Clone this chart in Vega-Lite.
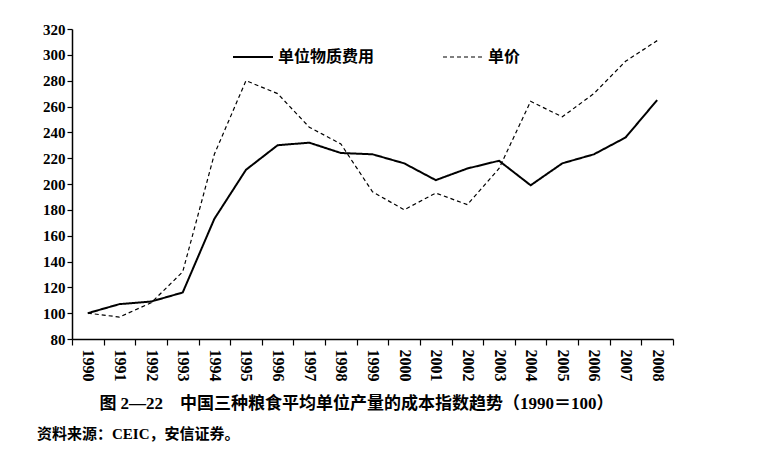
{
  "$schema": "https://vega.github.io/schema/vega-lite/v6.json",
  "width": 601,
  "height": 310,
  "autosize": {"type": "none"},
  "padding": {"left": 72, "top": 29, "right": 109, "bottom": 117},
  "background": "white",
  "config": {
    "view": {"stroke": null},
    "font": "Liberation Serif, Noto Sans CJK SC",
    "axis": {"grid": false, "domainColor": "black", "tickColor": "black", "labelColor": "black", "domainWidth": 1.5, "tickWidth": 1.2}
  },
  "title": {
    "text": "资料来源：CEIC，安信证券。",
    "orient": "bottom",
    "anchor": "start",
    "frame": "group",
    "dx": -35,
    "offset": 16,
    "fontSize": 15,
    "fontWeight": "bold",
    "font": "Liberation Serif, Noto Sans CJK SC",
    "color": "black"
  },
  "data": {
    "values": [
      {"year": "1990", "series": "单位物质费用", "value": 100},
      {"year": "1991", "series": "单位物质费用", "value": 107},
      {"year": "1992", "series": "单位物质费用", "value": 109},
      {"year": "1993", "series": "单位物质费用", "value": 116},
      {"year": "1994", "series": "单位物质费用", "value": 173},
      {"year": "1995", "series": "单位物质费用", "value": 211},
      {"year": "1996", "series": "单位物质费用", "value": 230},
      {"year": "1997", "series": "单位物质费用", "value": 232},
      {"year": "1998", "series": "单位物质费用", "value": 224},
      {"year": "1999", "series": "单位物质费用", "value": 223},
      {"year": "2000", "series": "单位物质费用", "value": 216},
      {"year": "2001", "series": "单位物质费用", "value": 203},
      {"year": "2002", "series": "单位物质费用", "value": 212},
      {"year": "2003", "series": "单位物质费用", "value": 218},
      {"year": "2004", "series": "单位物质费用", "value": 199},
      {"year": "2005", "series": "单位物质费用", "value": 216},
      {"year": "2006", "series": "单位物质费用", "value": 223},
      {"year": "2007", "series": "单位物质费用", "value": 236},
      {"year": "2008", "series": "单位物质费用", "value": 265},
      {"year": "1990", "series": "单价", "value": 100},
      {"year": "1991", "series": "单价", "value": 97},
      {"year": "1992", "series": "单价", "value": 108},
      {"year": "1993", "series": "单价", "value": 132},
      {"year": "1994", "series": "单价", "value": 223},
      {"year": "1995", "series": "单价", "value": 280},
      {"year": "1996", "series": "单价", "value": 270},
      {"year": "1997", "series": "单价", "value": 244},
      {"year": "1998", "series": "单价", "value": 231},
      {"year": "1999", "series": "单价", "value": 194},
      {"year": "2000", "series": "单价", "value": 180},
      {"year": "2001", "series": "单价", "value": 193},
      {"year": "2002", "series": "单价", "value": 184},
      {"year": "2003", "series": "单价", "value": 212},
      {"year": "2004", "series": "单价", "value": 264},
      {"year": "2005", "series": "单价", "value": 252},
      {"year": "2006", "series": "单价", "value": 270},
      {"year": "2007", "series": "单价", "value": 295},
      {"year": "2008", "series": "单价", "value": 311}
    ]
  },
  "mark": {"type": "line", "color": "black"},
  "encoding": {
    "x": {
      "field": "year",
      "type": "ordinal",
      "scale": {"paddingInner": 0, "paddingOuter": 0},
      "axis": {
        "title": "图 2—22　中国三种粮食平均单位产量的成本指数趋势（1990＝100）",
        "titleFontSize": 17,
        "titleFontWeight": "bold",
        "titleColor": "black",
        "titleX": 284,
        "titleY": 64,
        "titleBaseline": "middle",
        "labelAngle": 90,
        "labelAlign": "left",
        "labelBaseline": "middle",
        "labelFontSize": 16,
        "labelFontWeight": "bold",
        "labelPadding": 4,
        "tickBand": "extent",
        "tickSize": 6
      }
    },
    "y": {
      "field": "value",
      "type": "quantitative",
      "scale": {"domain": [80, 320]},
      "axis": {
        "title": null,
        "values": [80, 100, 120, 140, 160, 180, 200, 220, 240, 260, 280, 300, 320],
        "labelFontSize": 15,
        "labelFontWeight": "bold",
        "tickSize": 5,
        "labelPadding": 2
      }
    },
    "strokeDash": {
      "field": "series",
      "type": "nominal",
      "scale": {"domain": ["单位物质费用", "单价"], "range": [[1, 0], [4, 3]]},
      "legend": {
        "title": null,
        "orient": "none",
        "legendX": 160,
        "legendY": 7,
        "direction": "horizontal",
        "symbolType": "stroke",
        "symbolSize": 1600,
        "symbolStrokeColor": "black",
        "symbolStrokeWidth": 1.8,
        "labelFontSize": 16,
        "labelFontWeight": "bold",
        "labelColor": "black",
        "labelOffset": 4,
        "columnPadding": 65
      }
    },
    "strokeWidth": {
      "field": "series",
      "type": "nominal",
      "scale": {"domain": ["单位物质费用", "单价"], "range": [2, 1.2]},
      "legend": null
    }
  }
}
